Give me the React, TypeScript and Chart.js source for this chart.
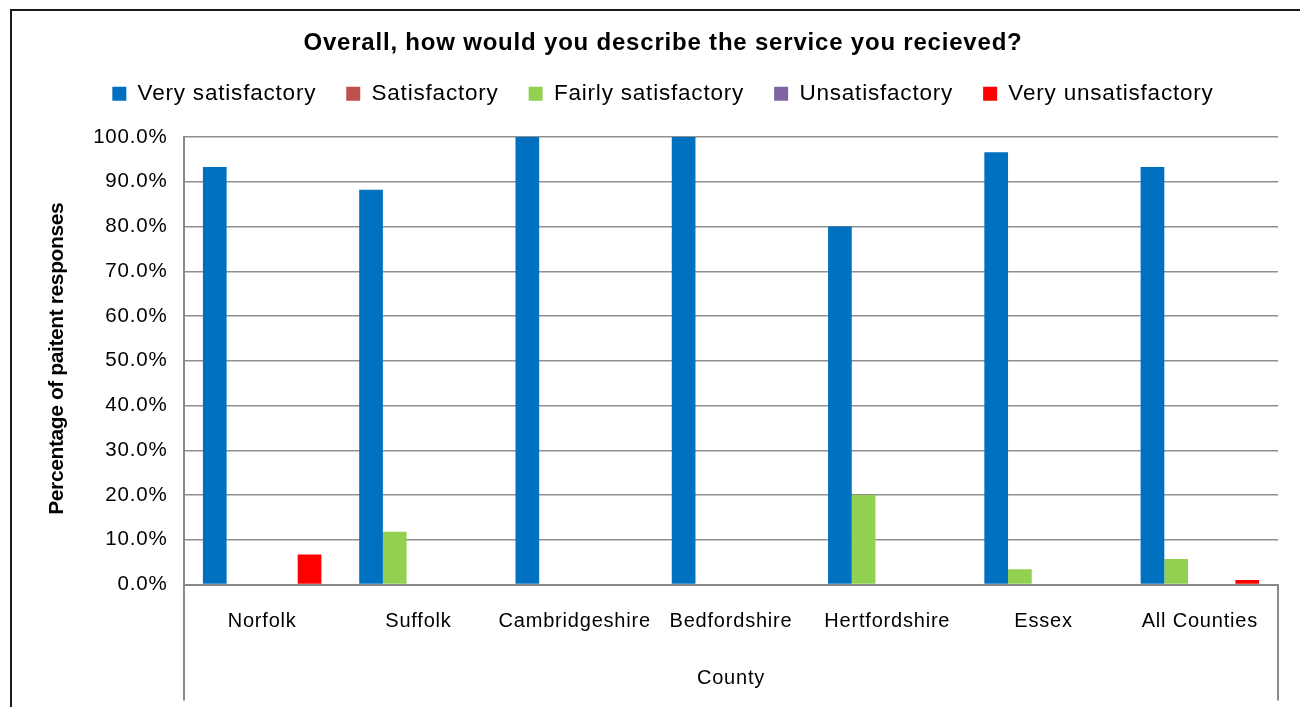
import React, { useEffect, useRef } from "react";
import { Chart, registerables } from "chart.js";

Chart.register(...registerables);

const TITLE = "Overall, how would you describe the service you recieved?";
const categories = ["Norfolk", "Suffolk", "Cambridgeshire", "Bedfordshire", "Hertfordshire", "Essex", "All Counties"];
const seriesNames = ["Very satisfactory", "Satisfactory", "Fairly satisfactory", "Unsatisfactory", "Very unsatisfactory"];
const verySatisfactory = [93.3, 88.2, 100, 100, 80, 96.6, 93.3];
const satisfactory = [0, 0, 0, 0, 0, 0, 0];
const fairlySatisfactory = [0, 11.8, 0, 0, 20, 3.4, 5.7];
const unsatisfactory = [0, 0, 0, 0, 0, 0, 0];
const veryUnsatisfactory = [6.7, 0, 0, 0, 0, 0, 1.0];
const seriesColors = ["#0070C0", "#C0504D", "#92D050", "#8064A2", "#FF0000"];
// slot order of the bars inside each category group
const seriesSlot = [0, 2, 1, 3, 4];
const yTitle = "Percentage of paitent responses";
const xTitle = "County";

const FONT = "'Liberation Sans', Arial, sans-serif";
const SPACING = "0.8px";

const spacingPlugin = {
  id: "spacing",
  beforeUpdate(chart: any) { chart.ctx.letterSpacing = SPACING; },
  beforeLayout(chart: any) { chart.ctx.letterSpacing = SPACING; },
  beforeDraw(chart: any) { chart.ctx.letterSpacing = SPACING; },
};

const decorPlugin = {
  id: "decor",
  afterDraw(chart: any) {
    const { ctx, chartArea } = chart;
    ctx.save();
    ctx.strokeStyle = "#8a8a8a";
    ctx.lineWidth = 2;
    ctx.beginPath();
    ctx.moveTo(chartArea.left, chartArea.bottom);
    ctx.lineTo(chartArea.left, chartArea.bottom + 116);
    ctx.moveTo(chartArea.right, chartArea.bottom);
    ctx.lineTo(chartArea.right, chartArea.bottom + 116);
    ctx.stroke();
    // y axis title
    ctx.translate(chartArea.left - 127, (chartArea.top + chartArea.bottom) / 2 - 2);
    ctx.rotate(-Math.PI / 2);
    ctx.letterSpacing = "-0.4px";
    ctx.font = "bold 21px " + FONT;
    ctx.fillStyle = "#000";
    ctx.textAlign = "center";
    ctx.textBaseline = "middle";
    ctx.fillText(yTitle, 0, 0);
    ctx.restore();
  },
};

export default function App() {
  const ref = useRef<HTMLCanvasElement | null>(null);
  useEffect(() => {
    if (!ref.current) return;
    const values = [verySatisfactory, satisfactory, fairlySatisfactory, unsatisfactory, veryUnsatisfactory];
    const chart = new Chart(ref.current, {
      type: "bar",
      data: {
        labels: categories,
        datasets: seriesNames.map((n, i) => ({
          label: n,
          data: values[i],
          backgroundColor: seriesColors[i],
          borderWidth: 0,
          order: seriesSlot[i],
          categoryPercentage: 0.758,
          barPercentage: 1,
        })),
      },
      plugins: [spacingPlugin, decorPlugin],
      options: {
        responsive: false,
        animation: false,
        devicePixelRatio: 1,
        layout: { padding: { left: 36, right: 28, top: 0, bottom: 0 } },
        plugins: {
          title: {
            display: true,
            text: TITLE,
            color: "#000",
            font: { family: FONT, size: 24, weight: "bold", lineHeight: 1 },
            padding: { top: 20.5, bottom: -3 },
          },
          subtitle: {
            display: true,
            text: "",
            weight: 500,
            font: { size: 10, lineHeight: 1 },
            padding: { top: 12, bottom: 0 },
          },
          legend: {
            display: true,
            labels: {
              color: "#000",
              font: { family: FONT, size: 22.5 },
              boxWidth: 14,
              boxHeight: 14,
              padding: 30,
              sort: (a: any, b: any) => a.datasetIndex - b.datasetIndex,
            },
          },
          tooltip: { enabled: false },
        },
        scales: {
          x: {
            grid: { display: false, drawTicks: false },
            border: { color: "#888", width: 2 },
            ticks: { color: "#000", font: { family: FONT, size: 20 }, padding: 24.5, maxRotation: 0, autoSkip: false },
            title: { display: true, text: xTitle, color: "#000", font: { family: FONT, size: 20 }, padding: { top: 10, bottom: 33 } },
            afterFit(s: any) { s.height = 138.5; },
          },
          y: {
            min: 0,
            max: 100,
            grid: { color: "#8f8f8f", lineWidth: 1.5, drawTicks: false },
            border: { color: "#888", width: 2 },
            ticks: {
              stepSize: 10,
              color: "#000",
              font: { family: FONT, size: 20.5 },
              padding: 16.5,
              callback: (v: any) => Number(v).toFixed(1) + "%",
            },
            title: { display: false, text: yTitle },
            afterFit(s: any) { s.width = 136; },
          },
        },
      },
    });
    return () => chart.destroy();
  }, []);
  return (
    <div style={{ marginLeft: 2, marginTop: 1, width: 1294, height: 712, border: "2px solid #1a1a1a", background: "#fff" }}>
      <canvas ref={ref} width={1294} height={712} style={{ display: "block" }} />
    </div>
  );
}
